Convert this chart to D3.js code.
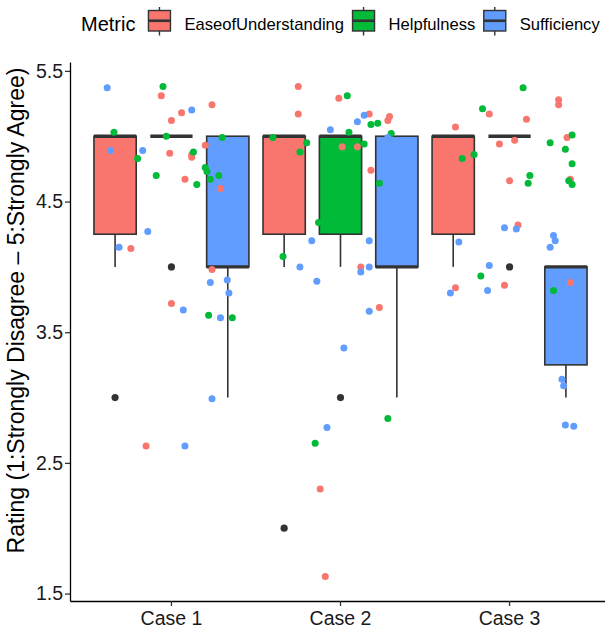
<!DOCTYPE html>
<html>
<head>
<meta charset="utf-8">
<script src="https://cdn.jsdelivr.net/npm/d3@7"></script>
<style>
  body { margin: 0; background: #fff; }
  text { font-family: "Liberation Sans", Arial, Helvetica, sans-serif; }
</style>
</head>
<body>
<script>
  //Chart data
  var cases = ["Case 1", "Case 2", "Case 3"];
  var metrics = ["EaseofUnderstanding", "Helpfulness", "Sufficiency"];
  var colors = ["#F8766D", "#00BA38", "#619CFF"];
  var yTicks = [1.5, 2.5, 3.5, 4.5, 5.5];

  //box stats, one row per case: [lower whisker, q1, median, q3, upper whisker]
  var easeBox = [[4, 4.25, 5, 5, 5], [4, 4.25, 5, 5, 5], [4, 4.25, 5, 5, 5]];
  var helpBox = [[5, 5, 5, 5, 5], [4, 4.25, 5, 5, 5], [5, 5, 5, 5, 5]];
  var suffBox = [[3, 4, 4, 5, 5], [3, 4, 4, 5, 5], [3, 3.25, 4, 4, 4]];

  //outliers: [case index, metric index, value]
  var outliers = [[0, 0, 3], [0, 1, 4], [1, 0, 2], [1, 1, 3], [2, 1, 4]];

  //jittered responses: [x jitter (in case widths), rating]
  var case1Ease = [[-0.06, 5.31], [0.24, 5.24], [0.06, 5.18], [0.00, 5.12], [0.20, 4.93], [-0.01, 4.87], [0.12, 4.86], [0.12, 4.84], [0.08, 4.67], [0.29, 4.60], [-0.24, 4.14], [0.24, 3.98], [0.00, 3.72], [-0.15, 2.63]];
  var case1Help = [[-0.05, 5.38], [-0.34, 5.03], [-0.03, 5.00], [0.30, 4.99], [0.13, 4.88], [-0.20, 4.83], [0.20, 4.76], [0.21, 4.73], [0.28, 4.70], [-0.09, 4.70], [0.23, 4.67], [0.15, 4.63], [0.22, 3.63], [0.36, 3.61]];
  var case1Suff = [[-0.38, 5.37], [0.12, 5.20], [-0.36, 4.89], [-0.17, 4.89], [-0.14, 4.27], [-0.31, 4.15], [0.23, 3.88], [0.33, 3.90], [0.34, 3.80], [0.07, 3.67], [0.29, 3.61], [0.24, 2.99], [0.08, 2.63]];
  var case2Ease = [[-0.25, 5.38], [-0.25, 5.17], [-0.01, 5.29], [0.17, 5.17], [0.28, 5.12], [0.29, 5.15], [0.01, 4.92], [0.10, 4.92], [0.18, 4.74], [0.12, 4.00], [0.23, 3.69], [-0.12, 2.30], [-0.09, 1.63]];
  var case2Help = [[0.04, 5.31], [0.18, 5.09], [0.22, 5.10], [0.05, 5.03], [0.30, 5.02], [-0.40, 4.99], [-0.20, 4.95], [-0.24, 4.88], [0.14, 4.94], [0.23, 4.64], [-0.13, 4.34], [-0.34, 4.08], [0.28, 2.84], [-0.15, 2.65]];
  var case2Suff = [[0.14, 5.16], [0.10, 5.11], [-0.06, 5.05], [0.28, 4.99], [-0.17, 4.20], [0.17, 4.20], [-0.24, 4.00], [0.12, 3.96], [0.17, 4.00], [-0.14, 3.89], [0.17, 3.66], [0.02, 3.38], [-0.08, 2.77]];
  var case3Ease = [[0.29, 5.28], [0.29, 5.24], [-0.12, 5.17], [0.10, 5.13], [-0.32, 5.07], [0.34, 4.99], [0.03, 4.97], [-0.06, 4.94], [0.00, 4.66], [0.36, 4.67], [0.05, 4.32], [-0.03, 3.86], [-0.32, 3.84], [0.36, 3.88]];
  var case3Help = [[0.08, 5.37], [-0.16, 5.21], [0.37, 5.01], [0.24, 4.95], [0.33, 4.90], [-0.21, 4.86], [-0.28, 4.83], [0.37, 4.79], [0.12, 4.70], [0.11, 4.64], [0.35, 4.66], [0.37, 4.63], [-0.17, 3.93], [0.26, 3.82]];
  var case3Suff = [[-0.03, 4.30], [0.04, 4.29], [0.26, 4.24], [0.27, 4.20], [0.24, 4.15], [-0.30, 4.19], [-0.12, 4.01], [-0.35, 3.80], [-0.13, 3.82], [0.31, 3.14], [0.32, 3.09], [0.33, 2.79], [0.38, 2.78]];

  var w = 605; //svg width
  var h = 629; //svg height
  var panelLeft = 70, panelRight = 611, panelTop = 62, panelBottom = 601; //panel edges
  var boxColor = "#333333";

  //build tables from the arrays
  var boxStats = [easeBox, helpBox, suffBox];
  var boxes = [];
  cases.forEach(function(c, ci) {
      metrics.forEach(function(m, mi) {
          var s = boxStats[mi][ci];
          boxes.push({ c: c, m: mi, lo: s[0], q1: s[1], med: s[2], q3: s[3], hi: s[4] });
      });
  });

  var jitter = [
      [case1Ease, case1Help, case1Suff],
      [case2Ease, case2Help, case2Suff],
      [case3Ease, case3Help, case3Suff]
  ];
  var points = [];
  jitter.forEach(function(row, ci) {
      row.forEach(function(list, mi) {
          list.forEach(function(p) {
              points.push({ c: cases[ci], m: mi, dx: p[0], v: p[1] });
          });
      });
  });

  //SCALES
  var x = d3.scaleBand()
      .domain(cases)
      .range([panelLeft, panelRight])
      .paddingInner(0)
      .paddingOuter(0.1);

  var y = d3.scaleLinear()
      .domain([1.443, 5.568])
      .range([panelBottom, panelTop]);

  var unit = x.step();
  var center = function(c) { return x(c) + x.bandwidth() / 2; };
  var boxW = unit * 0.25;
  var boxX = function(d) { return center(d.c) + (d.m - 1) * unit / 3; };

  var svg = d3.select("body")
      .append("svg")
      .attr("width", w)
      .attr("height", h);

  //BOXES
  var g = svg.append("g");

  g.selectAll("line.whisker")
      .data(boxes)
      .enter()
      .append("line")
      .attr("class", "whisker")
      .attr("x1", boxX).attr("x2", boxX)
      .attr("y1", function(d) { return y(d.lo); })
      .attr("y2", function(d) { return y(d.hi); })
      .attr("stroke", boxColor)
      .attr("stroke-width", 1.6);

  g.selectAll("rect.box")
      .data(boxes)
      .enter()
      .append("rect")
      .attr("class", "box")
      .attr("x", function(d) { return boxX(d) - boxW / 2; })
      .attr("y", function(d) { return y(d.q3); })
      .attr("width", boxW)
      .attr("height", function(d) { return y(d.q1) - y(d.q3); })
      .attr("fill", function(d) { return colors[d.m]; })
      .attr("stroke", boxColor)
      .attr("stroke-width", 1.6);

  g.selectAll("line.median")
      .data(boxes)
      .enter()
      .append("line")
      .attr("class", "median")
      .attr("x1", function(d) { return boxX(d) - boxW / 2; })
      .attr("x2", function(d) { return boxX(d) + boxW / 2; })
      .attr("y1", function(d) { return y(d.med); })
      .attr("y2", function(d) { return y(d.med); })
      .attr("stroke", boxColor)
      .attr("stroke-width", 3.4);

  g.selectAll("circle.outlier")
      .data(outliers)
      .enter()
      .append("circle")
      .attr("class", "outlier")
      .attr("cx", function(d) { return boxX({ c: cases[d[0]], m: d[1] }); })
      .attr("cy", function(d) { return y(d[2]); })
      .attr("r", 3.6)
      .attr("fill", boxColor);

  //JITTER POINTS
  svg.append("g")
      .selectAll("circle")
      .data(points)
      .enter()
      .append("circle")
      .attr("cx", function(d) { return center(d.c) + d.dx * unit; })
      .attr("cy", function(d) { return y(d.v); })
      .attr("r", 3.5)
      .attr("fill", function(d) { return colors[d.m]; });

  //AXES
  var yAxis = svg.append("g")
      .attr("transform", "translate(" + panelLeft + ",0)")
      .call(d3.axisLeft(y).tickValues(yTicks).tickFormat(d3.format(".1f")).tickSize(5).tickSizeOuter(0).tickPadding(2));

  var xAxis = svg.append("g")
      .attr("transform", "translate(0," + panelBottom + ")")
      .call(d3.axisBottom(x).tickSize(5).tickSizeOuter(0).tickPadding(5));

  [yAxis, xAxis].forEach(function(a) {
      a.select(".domain").attr("stroke", "#000").attr("stroke-width", 1.3);
      a.selectAll(".tick line").attr("stroke", "#333").attr("stroke-width", 1.3);
      a.selectAll(".tick text")
          .attr("fill", "#1a1a1a")
          .style("font-size", "19.5px")
          .style("font-family", '"Liberation Sans", Arial, sans-serif');
  });

  //Y TITLE
  svg.append("text")
      .attr("transform", "translate(24,310.5) rotate(-90)")
      .attr("text-anchor", "middle")
      .style("font-size", "23px")
      .attr("fill", "#000")
      .text("Rating (1:Strongly Disagree \u2013 5:Strongly Agree)");

  //LEGEND
  var legend = svg.append("g");
  var title = legend.append("text")
      .attr("x", 81)
      .attr("y", 31)
      .style("font-size", "20px")
      .text("Metric");

  var lx = 81 + title.node().getComputedTextLength() + 13;
  metrics.forEach(function(m, i) {
      var k = legend.append("g").attr("transform", "translate(" + lx + ",0)");
      k.append("line")
          .attr("x1", 11).attr("x2", 11)
          .attr("y1", 7).attr("y2", 35.5)
          .attr("stroke", boxColor).attr("stroke-width", 1.4);
      k.append("rect")
          .attr("x", 0).attr("y", 10.5)
          .attr("width", 22).attr("height", 20.5)
          .attr("fill", colors[i])
          .attr("stroke", boxColor).attr("stroke-width", 1.4);
      k.append("line")
          .attr("x1", 0).attr("x2", 22)
          .attr("y1", 20.75).attr("y2", 20.75)
          .attr("stroke", boxColor).attr("stroke-width", 2.6);
      var t = legend.append("text")
          .attr("x", lx + 36)
          .attr("y", 30)
          .style("font-size", "16.6px")
          .text(m);
      lx = lx + 36 + t.node().getComputedTextLength() + 8.5;
  });
</script>
</body>
</html>
